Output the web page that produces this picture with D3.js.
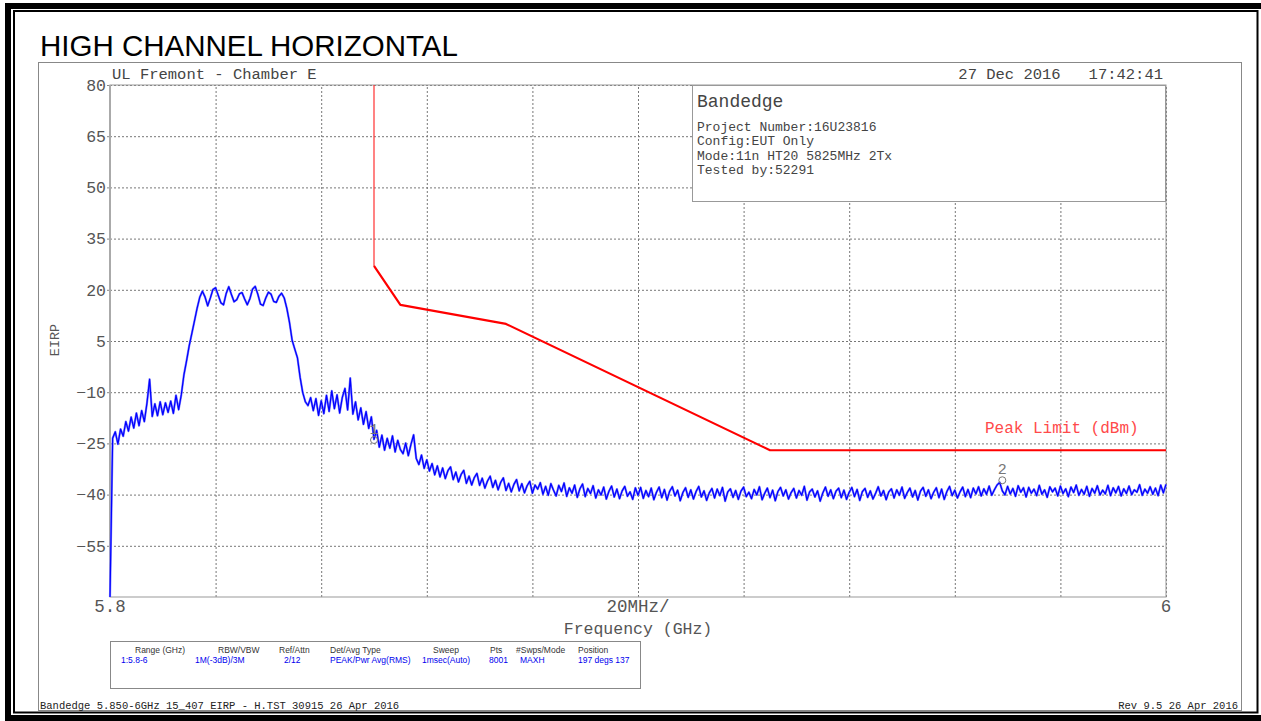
<!DOCTYPE html>
<html><head><meta charset="utf-8">
<script src="https://cdn.jsdelivr.net/npm/d3@7"></script>
<style>
html,body{margin:0;padding:0;background:#fff;}
svg{display:block;}
</style></head>
<body>
<svg id="c" width="1261" height="721"></svg>
<script>
// ---------- data ----------
const chartTitle = "HIGH CHANNEL HORIZONTAL";
const freqDomain = [5.8, 6.0];
const levelDomain = [-70, 80];
const yTickValues = [80, 65, 50, 35, 20, 5, -10, -25, -40, -55];
const xGridValues = [5.8, 5.82, 5.84, 5.86, 5.88, 5.9, 5.92, 5.94, 5.96, 5.98, 6.0];
const xTickLabels = [["5.8", 5.8], ["20MHz/", 5.9], ["6", 6.0]];
const limitFreq = [5.85, 5.85, 5.855, 5.875, 5.925, 6.0];
const limitLevel = [80, 27, 15.6, 10, -27, -27];
const traceStart = 5.8;
const traceStep = 0.0005;
const traceLevels = [
-70,-23.5,-21.6,-25.2,-20.8,-22.9,-18.6,-21.4,-17.3,-20.5,-16.1,-19.8,-15.4,-18.6,-13.2,-6.2,-17.1,-13.4,-16.9,-12.8,
-16.6,-13.1,-15.9,-12.6,-16.2,-10.9,-15.1,-10.8,-4.9,-0.8,3.6,7.2,10.9,14.6,17.8,19.6,17.9,15.3,17.6,20.1,
20.6,18.4,16.2,15.6,18.9,20.9,18.6,16.5,17.1,18.8,19.2,17.3,15.6,17.4,20.2,21.0,18.7,15.8,15.4,17.6,
19.3,18.7,16.6,16.3,18.1,19.0,17.6,14.5,10.4,5.2,2.6,0.1,-5.6,-10.1,-12.8,-13.9,-11.6,-15.4,-11.9,-16.8,
-12.5,-16.3,-10.9,-15.6,-9.6,-14.8,-10.8,-16.1,-11.5,-8.9,-15.2,-5.9,-16.4,-12.8,-18.1,-14.6,-19.4,-15.7,-20.6,-17.2,
-23.8,-21.2,-26.1,-22.6,-27.0,-23.5,-26.4,-22.8,-27.5,-24.1,-26.8,-28.0,-24.9,-28.6,-25.3,-22.5,-29.4,-31.2,-28.4,-32.3,
-29.8,-33.1,-30.9,-34.2,-31.6,-34.8,-32.2,-35.3,-33.0,-31.9,-35.6,-33.4,-36.3,-34.1,-32.9,-36.7,-34.6,-37.2,-35.0,-33.8,
-37.3,-35.2,-38.1,-36.0,-34.6,-37.9,-35.8,-38.6,-36.4,-35.1,-38.8,-36.7,-39.2,-37.0,-35.6,-38.9,-36.8,-39.5,-37.4,-36.1,
-39.6,-37.2,-38.4,-36.5,-39.9,-37.6,-40.2,-36.8,-38.7,-40.4,-37.3,-39.1,-36.6,-40.5,-38.0,-39.6,-37.2,-40.8,-38.3,-36.9,
-40.6,-38.2,-39.7,-37.4,-41.0,-38.6,-40.1,-37.8,-41.3,-39.0,-37.5,-40.7,-38.4,-41.2,-38.9,-37.6,-40.5,-39.2,-41.4,-38.0,
-40.2,-37.9,-41.1,-38.8,-40.6,-38.1,-41.5,-39.3,-37.8,-40.9,-38.5,-41.6,-39.0,-37.7,-40.4,-38.7,-41.8,-39.4,-38.0,-40.8,
-38.6,-41.3,-39.1,-37.6,-40.7,-38.9,-41.7,-39.5,-38.2,-41.0,-38.4,-40.3,-37.9,-41.9,-39.2,-38.3,-40.8,-38.8,-41.4,-39.0,
-37.8,-40.6,-39.3,-41.2,-38.5,-40.1,-37.7,-41.5,-39.6,-38.1,-40.9,-38.7,-41.8,-39.1,-37.9,-40.4,-38.6,-41.3,-39.4,-38.2,
-41.0,-38.8,-40.2,-37.6,-41.6,-39.2,-38.4,-40.7,-38.9,-41.9,-39.5,-37.8,-40.5,-38.6,-41.2,-39.0,-38.1,-40.9,-38.7,-41.4,
-39.3,-37.9,-40.6,-38.5,-41.7,-39.1,-38.2,-40.8,-38.9,-41.3,-39.6,-37.7,-40.4,-38.8,-41.5,-39.2,-38.3,-41.0,-38.6,-40.2,
-37.8,-41.1,-39.4,-38.1,-40.7,-38.8,-41.6,-39.0,-37.9,-40.5,-38.6,-41.2,-39.3,-38.0,-40.9,-38.4,-41.4,-39.1,-37.6,-40.3,
-38.7,-41.0,-39.2,-37.8,-40.6,-38.5,-40.9,-38.1,-39.8,-37.7,-40.4,-38.3,-39.9,-37.5,-40.2,-38.6,-37.2,-36.4,-38.9,-40.1,
-37.6,-39.8,-38.2,-40.5,-37.4,-39.3,-38.0,-40.7,-37.9,-39.6,-38.4,-40.3,-37.3,-39.9,-38.6,-40.8,-37.7,-39.2,-38.1,-40.4,
-37.5,-39.7,-38.3,-40.6,-37.8,-39.4,-37.2,-40.2,-38.5,-39.9,-37.6,-40.5,-38.2,-39.6,-37.4,-40.1,-38.7,-39.8,-37.3,-40.3,
-38.0,-39.5,-37.6,-40.4,-38.3,-39.7,-37.5,-40.0,-38.6,-39.3,-37.1,-40.2,-38.4,-39.6,-37.7,-39.9,-38.1,-40.3,-37.2,-39.5,-37.0
];
const markerLabels = ["1", "2"];
const markerFreq = [5.85, 5.969];
const markerLevel = [-24.0, -35.8];
const infoTitle = "Bandedge";
const infoLines = ["Project Number:16U23816", "Config:EUT Only", "Mode:11n HT20 5825MHz 2Tx", "Tested by:52291"];
const headerLeft = "UL Fremont - Chamber E";
const headerRight = "27 Dec 2016   17:42:41";
const tableHeaders = ["Range (GHz)", "RBW/VBW", "Ref/Attn", "Det/Avg Type", "Sweep", "Pts", "#Swps/Mode", "Position"];
const tableValues = ["1:5.8-6", "1M(-3dB)/3M", "2/12", "PEAK/Pwr Avg(RMS)", "1msec(Auto)", "8001", "MAXH", "197 degs 137"];
const footerLeft = "Bandedge 5.850-6GHz 15_407 EIRP - H.TST 30915 26 Apr 2016";
const footerRight = "Rev 9.5 26 Apr 2016";

// ---------- layout ----------
const svg = d3.select("#c");
const plot = {l:110, r:1166, t:85, b:597};
const x = d3.scaleLinear().domain(freqDomain).range([plot.l, plot.r]);
const y = d3.scaleLinear().domain(levelDomain).range([plot.b, plot.t]);
const mono = "'Liberation Mono', 'DejaVu Sans Mono', monospace";

// page frame
svg.append("rect").attr("x",5).attr("y",3).attr("width",1256).attr("height",6).attr("fill","#000");
svg.append("rect").attr("x",5).attr("y",3).attr("width",6).attr("height",718).attr("fill","#000");
svg.append("rect").attr("x",5).attr("y",715).attr("width",1256).attr("height",6).attr("fill","#000");
svg.append("rect").attr("x",14).attr("y",11).attr("width",1243.5).attr("height",701.5)
  .attr("fill","none").attr("stroke","#000").attr("stroke-width",2);

// plot outer frame
svg.append("rect").attr("x",38.5).attr("y",62.5).attr("width",1203).attr("height",648)
  .attr("fill","none").attr("stroke","#888").attr("stroke-width",1);

// title
svg.append("text").attr("x",40).attr("y",56).text(chartTitle)
  .attr("font-family","'Liberation Sans', Arial, sans-serif").attr("font-size",29.5).attr("fill","#000");

// header texts
svg.append("text").attr("x",112).attr("y",79).text(headerLeft)
  .attr("font-family",mono).attr("font-size",15.5).attr("fill","#444");
svg.append("text").attr("x",1163).attr("y",79).attr("text-anchor","end").text(headerRight)
  .attr("font-family",mono).attr("font-size",15.5).attr("fill","#444").style("white-space","pre");

// grid
const gy = svg.append("g").attr("transform",`translate(${plot.l},0)`)
  .call(d3.axisLeft(y).tickValues(yTickValues).tickSize(-(plot.r-plot.l)).tickFormat(""));
gy.select(".domain").remove();
gy.selectAll("line").attr("stroke","#777").attr("stroke-dasharray","2,2").attr("stroke-width",1);

const gx = svg.append("g").attr("transform",`translate(0,${plot.b})`)
  .call(d3.axisBottom(x).tickValues(xGridValues).tickSize(-(plot.b-plot.t)).tickFormat(""));
gx.select(".domain").remove();
gx.selectAll("line").attr("stroke","#777").attr("stroke-dasharray","2,2").attr("stroke-width",1);

// y tick labels
const yl = svg.append("g").attr("transform",`translate(${plot.l},0)`)
  .call(d3.axisLeft(y).tickValues(yTickValues).tickSize(3).tickPadding(1).tickFormat(d=>d<0?"\u2212"+(-d):String(d)));
yl.select(".domain").remove();
yl.selectAll("line").attr("stroke","#888");
yl.selectAll("text").attr("font-family",mono).attr("font-size",16.5).attr("fill","#555");

// plot border
svg.append("rect").attr("x",plot.l).attr("y",plot.t).attr("width",plot.r-plot.l).attr("height",plot.b-plot.t)
  .attr("fill","none").attr("stroke","#999").attr("stroke-width",1);
svg.append("line").attr("x1",plot.l).attr("x2",plot.l).attr("y1",plot.t).attr("y2",plot.b)
  .attr("stroke","#aaa").attr("stroke-width",2);

// x labels
xTickLabels.forEach(([t,v])=>{
  svg.append("text").attr("x",x(v)).attr("y",612).attr("text-anchor","middle").text(t)
    .attr("font-family",mono).attr("font-size",17.5).attr("fill","#555");
});
svg.append("text").attr("x",638).attr("y",634).attr("text-anchor","middle").text("Frequency (GHz)")
  .attr("font-family",mono).attr("font-size",16.5).attr("fill","#555");
svg.append("text").attr("transform","translate(59,340) rotate(-90)").attr("text-anchor","middle").text("EIRP")
  .attr("font-family",mono).attr("font-size",13.5).attr("fill","#555");

// info box
svg.append("rect").attr("x",692.5).attr("y",85.5).attr("width",473).attr("height",116)
  .attr("fill","#fff").attr("stroke","#999").attr("stroke-width",1);
svg.append("text").attr("x",697).attr("y",107).text(infoTitle)
  .attr("font-family",mono).attr("font-size",18).attr("fill","#444");
infoLines.forEach((t,i)=>{
  svg.append("text").attr("x",697).attr("y",131+i*14.4).text(t)
    .attr("font-family",mono).attr("font-size",13).attr("fill","#444");
});

// limit line
const limitPts = limitFreq.map((f,i)=>[f,limitLevel[i]]);
const lineGen = d3.line().x(d=>x(d[0])).y(d=>y(d[1]));
svg.append("path").attr("d",lineGen(limitPts.slice(0,2))).attr("fill","none")
  .attr("stroke","#ff3030").attr("stroke-width",1.2);
svg.append("path").attr("d",lineGen(limitPts.slice(1))).attr("fill","none")
  .attr("stroke","#ff0000").attr("stroke-width",2.2).attr("stroke-linejoin","round");
svg.append("text").attr("x",985).attr("y",433).text("Peak Limit (dBm)")
  .attr("font-family",mono).attr("font-size",16).attr("fill","#ff4a4a");

// trace
const trace = traceLevels.map((v,i)=>[traceStart + i*traceStep, v]);
svg.append("path").attr("d",lineGen(trace)).attr("fill","none")
  .attr("stroke","#8080ff").attr("stroke-width",2.2).attr("stroke-linejoin","round");
svg.append("path").attr("d",lineGen(trace)).attr("fill","none")
  .attr("stroke","#0000ff").attr("stroke-width",1.2).attr("stroke-linejoin","round");

// markers
markerLabels.forEach((m,i)=>{
  const mx = x(markerFreq[i]), my = y(markerLevel[i]);
  svg.append("circle").attr("cx",mx).attr("cy",my).attr("r",3.5).attr("fill","none").attr("stroke","#777").attr("stroke-width",1);
  svg.append("text").attr("x",mx).attr("y",my-6).attr("text-anchor","middle").text(m)
    .attr("font-family",mono).attr("font-size",15).attr("fill","#777");
});

// settings table
svg.append("rect").attr("x",110.5).attr("y",641.5).attr("width",530).attr("height",47)
  .attr("fill","none").attr("stroke","#888").attr("stroke-width",1);
const headX = [135, 218, 279, 330, 433, 490, 516, 578];
const valX = [121, 195, 284, 330, 422, 489, 520, 578];
tableHeaders.forEach((t,i)=>{
  svg.append("text").attr("x",headX[i]).attr("y",653).text(t)
    .attr("font-family","'Liberation Sans', Arial, sans-serif").attr("font-size",8.5).attr("fill","#333");
  svg.append("text").attr("x",valX[i]).attr("y",663).text(tableValues[i])
    .attr("font-family","'Liberation Sans', Arial, sans-serif").attr("font-size",8.5).attr("fill","#0000ee");
});

// footer
svg.append("text").attr("x",40).attr("y",709).text(footerLeft)
  .attr("font-family",mono).attr("font-size",10.5).attr("fill","#222");
svg.append("text").attr("x",1238).attr("y",709).attr("text-anchor","end").text(footerRight)
  .attr("font-family",mono).attr("font-size",10.5).attr("fill","#222");
</script>
</body></html>
